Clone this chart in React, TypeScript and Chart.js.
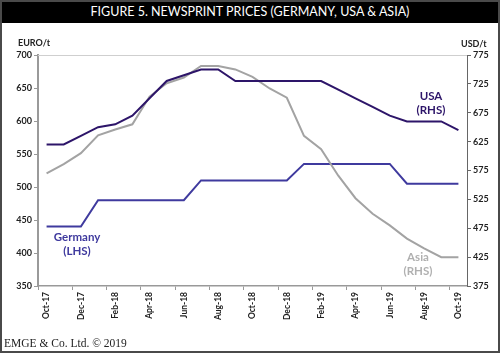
import React, { useEffect, useRef } from "react";
import { Chart, registerables } from "chart.js";

Chart.register(...registerables);

const months = [
  "Oct-17", "Nov-17", "Dec-17", "Jan-18", "Feb-18", "Mar-18", "Apr-18", "May-18",
  "Jun-18", "Jul-18", "Aug-18", "Sep-18", "Oct-18", "Nov-18", "Dec-18", "Jan-19",
  "Feb-19", "Mar-19", "Apr-19", "May-19", "Jun-19", "Jul-19", "Aug-19", "Sep-19", "Oct-19",
];
const germany = [440, 440, 440, 480, 480, 480, 480, 480, 480, 510, 510, 510, 510, 510, 510, 535, 535, 535, 535, 535, 535, 505, 505, 505, 505];
const usa = [620, 620, 635, 650, 655, 670, 700, 730, 740, 750, 750, 730, 730, 730, 730, 730, 730, 715, 700, 685, 670, 660, 660, 660, 645];
const asia = [570, 586, 605, 636, 646, 655, 703, 726, 736, 756, 756, 750, 737, 717, 701, 635, 612, 566, 527, 500, 480, 457, 440, 425, 425];

const TITLE = "FIGURE 5. NEWSPRINT PRICES (GERMANY, USA & ASIA)";
const FOOTER = "EMGE & Co. Ltd. \u00A9 2019";
const FONT = "Lato, 'Open Sans', sans-serif";

const USA_COLOR = "#2d1569";
const GER_COLOR = "#3f3a9e";
const ASIA_COLOR = "#a3a3a3";

const overlayPlugin = {
  id: "overlay",
  afterDraw(chart: any) {
    const { ctx, chartArea } = chart;
    ctx.save();
    ctx.strokeStyle = "#cfcfcf";
    ctx.lineWidth = 1;
    ctx.beginPath();
    ctx.moveTo(chartArea.left, chartArea.top + 0.5);
    ctx.lineTo(chartArea.right, chartArea.top + 0.5);
    ctx.stroke();

    ctx.font = `bold 9px ${FONT}`;
    ctx.fillStyle = "#222";
    ctx.textBaseline = "middle";
    ctx.textAlign = "left";
    ctx.fillText("EURO/t", 18, 43);
    ctx.fillText("USD/t", 461, 44);

    const label = (lines: string[], x: number, y: number, color: string) => {
      ctx.font = `bold 11.5px ${FONT}`;
      ctx.fillStyle = color;
      ctx.textAlign = "center";
      ctx.textBaseline = "middle";
      lines.forEach((l, i) => ctx.fillText(l, x, y + i * 14));
    };
    label(["USA", "(RHS)"], 431, 96, USA_COLOR);
    label(["Germany", "(LHS)"], 77, 237, GER_COLOR);
    label(["Asia", "(RHS)"], 418, 257, "#b0b0b0");
    ctx.restore();
  },
};

export default function App() {
  const ref = useRef<HTMLCanvasElement>(null);
  useEffect(() => {
    document.body.style.margin = "0";
    const canvas = ref.current!;
    const chart = new Chart(canvas, {
      type: "line",
      data: {
        labels: months,
        datasets: [
          { label: "USA", data: usa, yAxisID: "yR", borderColor: USA_COLOR, borderWidth: 2, pointRadius: 0, tension: 0 },
          { label: "Asia", data: asia, yAxisID: "yR", borderColor: ASIA_COLOR, borderWidth: 2, pointRadius: 0, tension: 0 },
          { label: "Germany", data: germany, yAxisID: "yL", borderColor: GER_COLOR, borderWidth: 2, pointRadius: 0, tension: 0 },
        ],
      },
      options: {
        responsive: false,
        animation: false,
        devicePixelRatio: 1,
        layout: { padding: { top: 55, left: 0, right: 0, bottom: 0 } },
        plugins: { legend: { display: false }, tooltip: { enabled: false }, title: { display: false } },
        scales: {
          x: {
            type: "category",
            offset: true,
            grid: {
              offset: true,
              drawOnChartArea: false,
              drawTicks: true,
              tickLength: 4,
              color: (c: any) => (c.index % 2 === 0 ? "#999" : "rgba(0,0,0,0)"),
            },
            border: { display: true, color: "#999", width: 1.5 },
            ticks: {
              autoSkip: false,
              minRotation: 90,
              maxRotation: 90,
              padding: 2,
              color: "#222",
              font: { family: FONT, size: 8.5, weight: "bold" },
              callback: function (this: any, v: any, i: number) {
                return i % 2 === 0 ? this.getLabelForValue(v) : "";
              },
            },
            afterFit: (s: any) => { s.height = 67; },
          },
          yL: {
            type: "linear",
            position: "left",
            min: 350,
            max: 700,
            ticks: { stepSize: 50, padding: 2, color: "#222", font: { family: FONT, size: 9, weight: "bold" } },
            grid: { drawOnChartArea: false, tickLength: 4, color: "#999" },
            border: { display: true, color: "#9a9a9a", width: 2 },
            afterFit: (s: any) => { s.width = 38; },
          },
          yR: {
            type: "linear",
            position: "right",
            min: 375,
            max: 775,
            ticks: { stepSize: 50, padding: 2, color: "#222", font: { family: FONT, size: 9, weight: "bold" } },
            grid: { drawOnChartArea: false, tickLength: 4, color: "#666" },
            border: { display: true, color: "#666", width: 1 },
            afterFit: (s: any) => { s.width = 33; },
          },
        },
      },
      plugins: [overlayPlugin],
    } as any);
    return () => chart.destroy();
  }, []);

  return (
    <div style={{ position: "relative", width: 500, height: 353, background: "#fff", overflow: "hidden" }}>
      <canvas ref={ref} width={500} height={353} style={{ position: "absolute", left: 0, top: 0, width: 500, height: 353 }} />
      <div
        style={{
          position: "absolute", left: 0, top: 0, width: 500, height: 23, background: "#000", color: "#fff",
          fontFamily: FONT, fontSize: 12.5, letterSpacing: 0, lineHeight: "23px", textAlign: "center",
        }}
      >
        {TITLE}
      </div>
      <div
        style={{
          position: "absolute", left: 4, top: 336, fontFamily: "'Liberation Serif', 'DejaVu Serif', serif",
          fontSize: 11.5, color: "#222", lineHeight: "14px",
        }}
      >
        {FOOTER}
      </div>
      <div
        style={{
          position: "absolute", left: 0, top: 0, width: 500, height: 353, boxSizing: "border-box",
          border: "2px solid #4a4a4a", pointerEvents: "none",
        }}
      />
    </div>
  );
}
